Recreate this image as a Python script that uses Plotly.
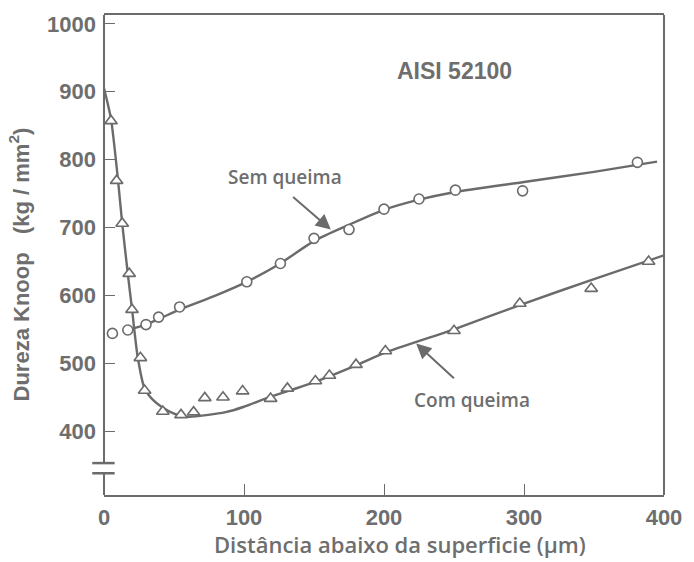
import plotly.graph_objects as go

# ---- data ----
sem_x = [6, 17, 30, 39, 54, 102, 126, 150, 175, 200, 225, 251, 299, 381]
sem_y = [544, 549, 557, 568, 583, 620, 647, 684, 697, 727, 742, 755, 754, 796]

com_x = [5, 9, 13, 18, 20, 26, 29, 42, 55, 64, 72, 85, 99, 119, 131, 151, 161, 180, 201, 250, 297, 348, 389]
com_y = [857, 769, 706, 632, 579, 508, 460, 429, 424, 428, 449, 450, 459, 448, 463, 474, 482, 498, 518, 548, 588, 610, 650]

# fitted curves (control points)
sem_fit_x = [16, 30, 40, 55, 80, 100, 125, 150, 175, 200, 225, 250, 300, 350, 395]
sem_fit_y = [549, 557, 566, 580, 600, 618, 646, 680, 704, 726, 741, 752, 767, 782, 797]

com_fit_x = [0, 5, 10, 13, 17, 20, 24, 29, 35, 41, 50, 59, 70, 87, 100, 118, 150, 180, 200, 250, 300, 350, 400]
com_fit_y = [905, 860, 770, 706, 632, 580, 510, 463, 446, 436, 426, 421, 423, 428, 436, 450, 472, 497, 515, 550, 588, 624, 659]

x_ticks = [0, 100, 200, 300, 400]
y_ticks = [400, 500, 600, 700, 800, 900, 1000]

X_RANGE = [0, 400]
Y_RANGE = [306, 1013]
BREAK = [338, 353]

GREY = "#6b6b6b"
TXT = "#6e6e6e"

fig = go.Figure()
fig.add_trace(go.Scatter(x=sem_fit_x, y=sem_fit_y, mode="lines",
                         line=dict(color=GREY, width=2.4, shape="spline", smoothing=0.8),
                         showlegend=False, hoverinfo="skip"))
fig.add_trace(go.Scatter(x=com_fit_x, y=com_fit_y, mode="lines",
                         line=dict(color=GREY, width=2.4, shape="spline", smoothing=0.6),
                         showlegend=False, hoverinfo="skip"))
fig.add_trace(go.Scatter(x=sem_x, y=sem_y, mode="markers", name="Sem queima",
                         marker=dict(symbol="circle", size=10, color="white",
                                     line=dict(color=GREY, width=1.6)),
                         showlegend=False))
fig.add_trace(go.Scatter(x=com_x, y=com_y, mode="markers", name="Com queima",
                         marker=dict(symbol="triangle-up", size=11, color="white",
                                     line=dict(color=GREY, width=1.6)),
                         showlegend=False))

tick_font = dict(family="Liberation Sans, Arial", size=22, color=TXT, weight="bold")

fig.update_xaxes(range=X_RANGE, tickvals=x_ticks, ticktext=[str(v) for v in x_ticks],
                 ticks="inside", ticklen=11, tickcolor=GREY, tickwidth=1.2,
                 showline=True, linecolor=GREY, linewidth=2, mirror=True,
                 showgrid=False, zeroline=False, tickfont=tick_font, ticklabelstandoff=2)
fig.update_yaxes(range=Y_RANGE, tickvals=y_ticks, ticktext=[str(v) for v in y_ticks],
                 ticks="inside", ticklen=11, tickcolor=GREY, tickwidth=1.2,
                 showline=False,
                 showgrid=False, zeroline=False, tickfont=tick_font, ticklabelstandoff=7)

# left axis line (broken) and right frame line
line_style = dict(color=GREY, width=2)
fig.add_shape(type="line", xref="paper", yref="y", x0=0, x1=0, y0=Y_RANGE[0], y1=BREAK[0], line=line_style)
fig.add_shape(type="line", xref="paper", yref="y", x0=0, x1=0, y0=BREAK[1], y1=Y_RANGE[1], line=line_style)
fig.add_shape(type="line", xref="paper", yref="y", x0=1, x1=1, y0=Y_RANGE[0], y1=Y_RANGE[1], line=line_style)
# break marks
for yb in BREAK:
    fig.add_shape(type="line", xref="paper", yref="y", x0=-0.021, x1=0.019, y0=yb, y1=yb,
                  line=dict(color=GREY, width=2.5), layer="above")

ann_font = dict(family="Open Sans", size=19, color=TXT, weight=600)
fig.add_annotation(x=129, y=775, text="Sem queima", showarrow=False, font=ann_font,
                   xanchor="center", yanchor="middle")
fig.add_annotation(x=162, y=697, ax=134, ay=747, axref="x", ayref="y", xref="x", yref="y",
                   text="", showarrow=True, arrowhead=2, arrowsize=1.5, arrowwidth=2, arrowcolor=GREY)
fig.add_annotation(x=263, y=446, text="Com queima", showarrow=False, font=ann_font,
                   xanchor="center", yanchor="middle")
fig.add_annotation(x=223, y=529, ax=251, ay=476, axref="x", ayref="y", xref="x", yref="y",
                   text="", showarrow=True, arrowhead=2, arrowsize=1.5, arrowwidth=2, arrowcolor=GREY)
fig.add_annotation(x=250, y=930, text="AISI 52100", showarrow=False,
                   font=dict(family="Liberation Sans, Arial", size=23, color=TXT, weight="bold"),
                   xanchor="center", yanchor="middle")

# axis titles
fig.add_annotation(xref="paper", yref="paper", x=-0.152, y=0.48, textangle=-90,
                   text="Dureza Knoop&nbsp;&nbsp;&nbsp;(kg / mm<sup>2</sup>)", showarrow=False,
                   font=dict(family="Liberation Sans, Arial", size=22, color=TXT, weight="bold"),
                   xanchor="center", yanchor="middle")
fig.add_annotation(xref="paper", yref="paper", x=0.529, y=-0.102,
                   text="Distância abaixo da superficie (µm)", showarrow=False,
                   font=dict(family="Open Sans", size=22, color=TXT, weight=600),
                   xanchor="center", yanchor="middle")

fig.update_layout(width=694, height=562, margin=dict(l=104, r=21, t=14, b=67),
                  plot_bgcolor="white", paper_bgcolor="white", showlegend=False)

fig.write_html("out.html")
